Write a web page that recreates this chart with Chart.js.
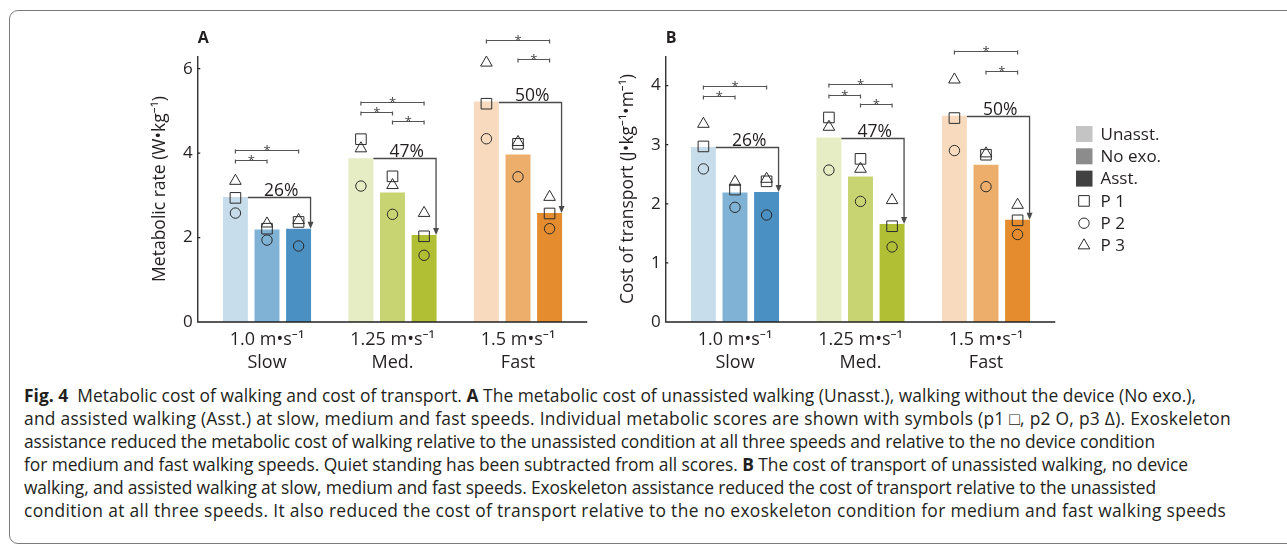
<!DOCTYPE html>
<html>
<head>
<meta charset="utf-8">
<script src="https://cdn.jsdelivr.net/npm/chart.js@4"></script>
<style>
  html, body { margin: 0; padding: 0; background: #fff; overflow: hidden; }
  body { width: 1287px; height: 546px; position: relative; }
  #frame { position: absolute; left: 9px; top: 10px; width: 1300px; height: 532px;
           border: 1.3px solid #7a7a7a; border-radius: 9px; }
  canvas { position: absolute; top: 0; }
  #chartA { left: 0; }
  #chartB { left: 600px; }
  #caption { position: absolute; left: 24px; top: 384px; font-family: "Open Sans", "Noto Sans", sans-serif;
             font-size: 17.4px; line-height: 23px; color: #231f20; white-space: nowrap; }
  #caption b { font-weight: 700; }
</style>
</head>
<body>
<div id="frame"></div>
<canvas id="chartA" width="610" height="380"></canvas>
<canvas id="chartB" width="687" height="380"></canvas>
<div id="caption">
  <div><span><b>Fig. 4</b>&nbsp; Metabolic cost of walking and cost of transport. <b>A</b> The metabolic cost of unassisted walking (Unasst.), walking without the device (No exo.),</span></div>
  <div><span>and assisted walking (Asst.) at slow, medium and fast speeds. Individual metabolic scores are shown with symbols (p1 □, p2 O, p3 Δ). Exoskeleton</span></div>
  <div><span>assistance reduced the metabolic cost of walking relative to the unassisted condition at all three speeds and relative to the no device condition</span></div>
  <div><span>for medium and fast walking speeds. Quiet standing has been subtracted from all scores. <b>B</b> The cost of transport of unassisted walking, no device</span></div>
  <div><span>walking, and assisted walking at slow, medium and fast speeds. Exoskeleton assistance reduced the cost of transport relative to the unassisted</span></div>
  <div><span>condition at all three speeds. It also reduced the cost of transport relative to the no exoskeleton condition for medium and fast walking speeds</span></div>
</div>
<script>
// categories
const groups = ["Slow", "Med.", "Fast"];
const speeds = ["1.0 m•s⁻¹", "1.25 m•s⁻¹", "1.5 m•s⁻¹"];
const conditions = ["Unasst.", "No exo.", "Asst."];
const participants = ["P 1", "P 2", "P 3"];
const percents = ["26%", "47%", "50%"];

// A: metabolic rate (W/kg), bars per condition, by speed
const metUnasst = [2.96, 3.88, 5.22];
const metNoExo  = [2.19, 3.07, 3.97];
const metAsst   = [2.21, 2.06, 2.58];
// individual scores: [unasst, noExo, asst] x speed
const metP1 = [[2.94, 4.33, 5.17], [2.21, 3.45, 4.22], [2.37, 2.03, 2.57]];
const metP2 = [[2.58, 3.22, 4.34], [1.94, 2.55, 3.44], [1.80, 1.58, 2.21]];
const metP3 = [[3.34, 4.11, 6.14], [2.33, 3.24, 4.26], [2.41, 2.58, 2.96]];
// significance: [speed, condition from, condition to, bracket level]
const metSig = [[0, 0, 1, 3.83], [0, 0, 2, 4.08], [1, 0, 1, 4.97], [1, 0, 2, 5.21], [1, 1, 2, 4.76], [2, 0, 2, 6.69], [2, 1, 2, 6.23]];
const metTicks = [0, 2, 4, 6];

// B: cost of transport (J/kg/m)
const cotUnasst = [2.96, 3.12, 3.49];
const cotNoExo  = [2.19, 2.46, 2.66];
const cotAsst   = [2.20, 1.66, 1.73];
const cotP1 = [[2.97, 3.46, 3.45], [2.24, 2.76, 2.83], [2.38, 1.62, 1.72]];
const cotP2 = [[2.59, 2.57, 2.90], [1.94, 2.04, 2.29], [1.81, 1.27, 1.48]];
const cotP3 = [[3.35, 3.30, 4.10], [2.37, 2.59, 2.85], [2.42, 2.06, 1.98]];
const cotSig = [[0, 0, 1, 3.83], [0, 0, 2, 3.99], [1, 0, 1, 3.84], [1, 0, 2, 4.02], [1, 1, 2, 3.68], [2, 0, 2, 4.59], [2, 1, 2, 4.25]];
const cotTicks = [0, 1, 2, 3, 4];

// colours: rows = condition, cols = speed
const barColors = [
  ["#c8ddec", "#e6ecc4", "#f8dbbe"],
  ["#80b2d6", "#c8d471", "#edae6b"],
  ["#4a90c2", "#b1bf34", "#e58c2e"]
];
const legendGrays = ["#c4c4c4", "#8c8c8c", "#414141"];
const markStyles = ["rect", "circle", "triangle"];
const markRadius = [7.5, 5.2, 6.7];
const FONT = '"Open Sans", "Noto Sans", sans-serif';
const INK = "#231f20";

// right end (px) of each caption line in the figure
const captionEnds = [1196, 1231, 1155, 1188, 1156, 1226];

function drawMark(ctx, p, x, y) {
  ctx.save();
  ctx.lineWidth = 1;
  ctx.strokeStyle = "#2b2b2b";
  ctx.fillStyle = "rgba(0,0,0,0)";
  Chart.helpers.drawPoint(ctx, { pointStyle: markStyles[p], radius: markRadius[p], rotation: 0, borderWidth: 1 }, x, y);
  ctx.restore();
}

const figPlugin = {
  id: "fig",
  afterDatasetsDraw(chart, args, o) {
    const ctx = chart.ctx, area = chart.chartArea, ys = chart.scales.y;
    const bars = [0, 1, 2].map(i => chart.getDatasetMeta(i).data);
    ctx.save();

    // axes
    const ax = area.left - 6.5;
    ctx.strokeStyle = "#222";
    ctx.lineWidth = 1.3;
    ctx.beginPath();
    ctx.moveTo(ax, area.top);
    ctx.lineTo(ax, area.bottom);
    ctx.lineTo(area.right + 6.5, area.bottom);
    ys.ticks.forEach(t => {
      const py = ys.getPixelForValue(t.value);
      ctx.moveTo(ax, py);
      ctx.lineTo(ax + 2.5, py);
    });
    ctx.stroke();

    // individual markers
    o.points.forEach((set, p) => {
      set.forEach((vals, c) => vals.forEach((v, g) => {
        drawMark(ctx, p, bars[c][g].x, ys.getPixelForValue(v));
      }));
    });

    // significance brackets
    ctx.strokeStyle = "#555";
    ctx.fillStyle = "#444";
    ctx.lineWidth = 1.2;
    ctx.font = "13px " + FONT;
    ctx.textAlign = "center";
    ctx.textBaseline = "alphabetic";
    o.sig.forEach(([g, a, b, level]) => {
      const x1 = bars[a][g].x, x2 = bars[b][g].x, py = Math.round(ys.getPixelForValue(level)) + 0.5;
      ctx.beginPath();
      ctx.moveTo(x1, py + 3);
      ctx.lineTo(x1, py - 1);
      ctx.moveTo(x1, py);
      ctx.lineTo(x2, py);
      ctx.moveTo(x2, py + 3);
      ctx.lineTo(x2, py - 1);
      ctx.stroke();
      ctx.fillText("*", (x1 + x2) / 2, py + 4);
    });

    // percent reduction arrows
    ctx.strokeStyle = "#4a4a4a";
    ctx.lineWidth = 1.3;
    percents.forEach((txt, g) => {
      const u = bars[0][g], a = bars[2][g];
      const x1 = u.x + u.width / 2, x2 = a.x + a.width / 2 - 0.5;
      const y1 = Math.round(u.y) + 0.5, y2 = a.y;
      ctx.beginPath();
      ctx.moveTo(x1, y1);
      ctx.lineTo(x2, y1);
      ctx.lineTo(x2, y2 - 6);
      ctx.stroke();
      ctx.fillStyle = "#4a4a4a";
      ctx.beginPath();
      ctx.moveTo(x2 - 3, y2 - 7);
      ctx.lineTo(x2 + 3, y2 - 7);
      ctx.lineTo(x2, y2);
      ctx.closePath();
      ctx.fill();
      ctx.fillStyle = INK;
      ctx.font = "17.5px " + FONT;
      ctx.fillText(txt, (x1 + x2) / 2 + 2, y1 - 1.5);
    });

    // panel letter
    ctx.fillStyle = INK;
    ctx.font = "bold 16px " + FONT;
    ctx.textAlign = "left";
    ctx.textBaseline = "middle";
    ctx.fillText(o.letter, ax, 38);

    // legend
    if (o.legend) {
      const lx = 476, ly = 134, dy = 22.3;
      ctx.font = "17px " + FONT;
      conditions.forEach((c, i) => {
        ctx.fillStyle = legendGrays[i];
        ctx.fillRect(lx, ly + i * dy - 8, 16.5, 16);
        ctx.fillStyle = INK;
        ctx.fillText(c, lx + 24.5, ly + i * dy + 1);
      });
      participants.forEach((pName, i) => {
        const py = ly + (3 + i) * dy;
        drawMark(ctx, i, lx + 8, py);
        ctx.fillStyle = INK;
        ctx.fillText(pName, lx + 24.5, py + 1);
      });
    }
    ctx.restore();
  }
};

function makeChart(id, vals, pts, sig, ticks, yMax, yTitle, pad, letter, legend) {
  const datasets = [vals[0], vals[1], vals[2]].map((d, i) => ({
    label: conditions[i],
    data: d,
    backgroundColor: barColors[i],
    borderWidth: 0,
    categoryPercentage: 0.755,
    barPercentage: 0.79
  }));
  return new Chart(document.getElementById(id), {
    type: "bar",
    data: { labels: groups.map((g, i) => [speeds[i], g]), datasets },
    options: {
      responsive: false,
      animation: false,
      layout: { padding: { left: pad.left, right: pad.right, top: 56, bottom: 0 } },
      plugins: {
        legend: { display: false },
        tooltip: { enabled: false },
        fig: { points: pts, sig, letter, legend }
      },
      scales: {
        x: {
          grid: { display: false, drawTicks: false },
          border: { display: false },
          ticks: { color: INK, padding: 6.5, font: { family: FONT, size: 18, lineHeight: 1.28 } },
          afterFit: s => { s.height = 58; }
        },
        y: {
          min: 0, max: yMax,
          afterBuildTicks: s => { s.ticks = ticks.map(v => ({ value: v })); },
          grid: { display: false, drawTicks: false },
          border: { display: false },
          ticks: { color: INK, padding: 11.5, font: { family: FONT, size: 17 } },
          title: { display: true, text: yTitle, color: INK, padding: 0, font: { family: FONT, size: 17.5, lineHeight: 1.2 } },
          afterFit: s => { s.width = 54.25; }
        }
      }
    },
    plugins: [figPlugin]
  });
}

makeChart("chartA", [metUnasst, metNoExo, metAsst], [metP1, metP2, metP3], metSig, metTicks, 6.3,
  "Metabolic rate (W•kg⁻¹)", { left: 150, right: 29.25 }, "A", false);
makeChart("chartB", [cotUnasst, cotNoExo, cotAsst], [cotP1, cotP2, cotP3], cotSig, cotTicks, 4.5,
  "Cost of transport (J•kg⁻¹•m⁻¹)", { left: 18, right: 238.25 }, "B", true);

// stretch each caption line to the width it has in the figure
document.querySelectorAll("#caption span").forEach((span, i) => {
  const r = span.getBoundingClientRect();
  const n = span.textContent.length;
  span.style.letterSpacing = ((captionEnds[i] - r.right) / n).toFixed(3) + "px";
});
</script>
</body>
</html>
